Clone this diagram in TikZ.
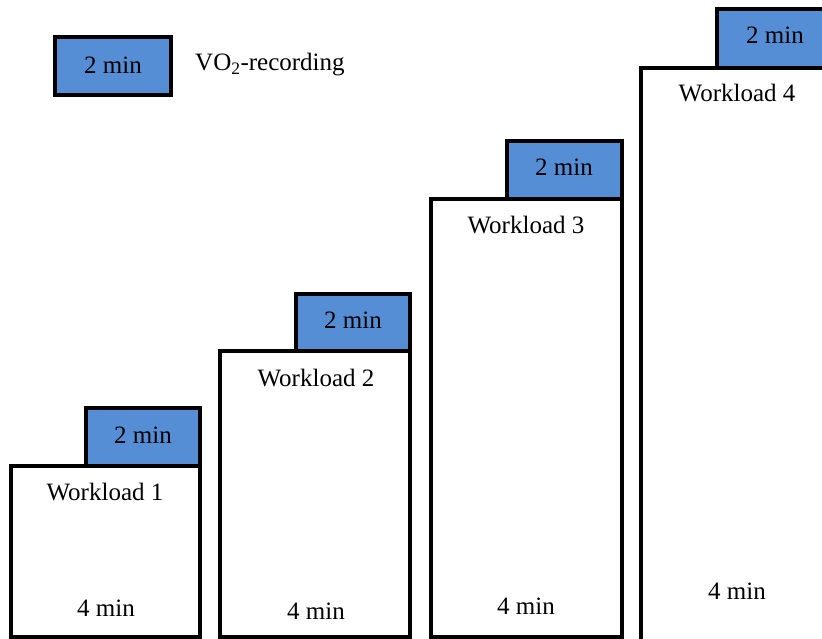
\documentclass[tikz,border=0pt]{standalone}
\usepackage{fontspec}
\setmainfont{Liberation Serif}
\usepackage{xcolor}
\usepackage{tikz}
\definecolor{recblue}{RGB}{85,142,213}
\tikzset{
  stage/.style={draw=black,fill=white,line width=3.5pt},
  rec/.style={draw=black,fill=recblue,line width=3.5pt},
  lbl/.style={font=\fontsize{25}{30}\selectfont,inner sep=0pt}
}
\begin{document}
\begin{tikzpicture}[x=1pt,y=1pt]
\useasboundingbox (0,0) rectangle (822,639);
\clip (0,0) rectangle (822,639);
% workload steps
\filldraw[stage] (11,2) rectangle (200,173);
\filldraw[stage] (220,2) rectangle (410,288);
\filldraw[stage] (431,2) rectangle (622,440);
\filldraw[stage] (641,-20) rectangle (832,571);
% recording boxes
\filldraw[rec] (86,173) rectangle (200,231);
\filldraw[rec] (296,288) rectangle (410,345);
\filldraw[rec] (507,440) rectangle (622,498);
\filldraw[rec] (717,571) rectangle (840,630);
% legend
\filldraw[rec] (55,544) rectangle (171,602);
\node[lbl] (leg) at (113,574){2 min};
\node[lbl,anchor=west] (legtxt) at (195,574){VO\textsubscript{2}-recording};
% labels
\node[lbl] (w1) at (105,147){Workload 1};
\node[lbl] (t1) at (106,31){4 min};
\node[lbl] (r1) at (143,204){2 min};
\node[lbl] (w2) at (316,261){Workload 2};
\node[lbl] (t2) at (316,28){4 min};
\node[lbl] (r2) at (353,319){2 min};
\node[lbl] (w3) at (526,414){Workload 3};
\node[lbl] (t3) at (526,33){4 min};
\node[lbl] (r3) at (564,472){2 min};
\node[lbl] (w4) at (737,546){Workload 4};
\node[lbl] (t4) at (737,48){4 min};
\node[lbl] (r4) at (775,604){2 min};
\end{tikzpicture}
\end{document}
